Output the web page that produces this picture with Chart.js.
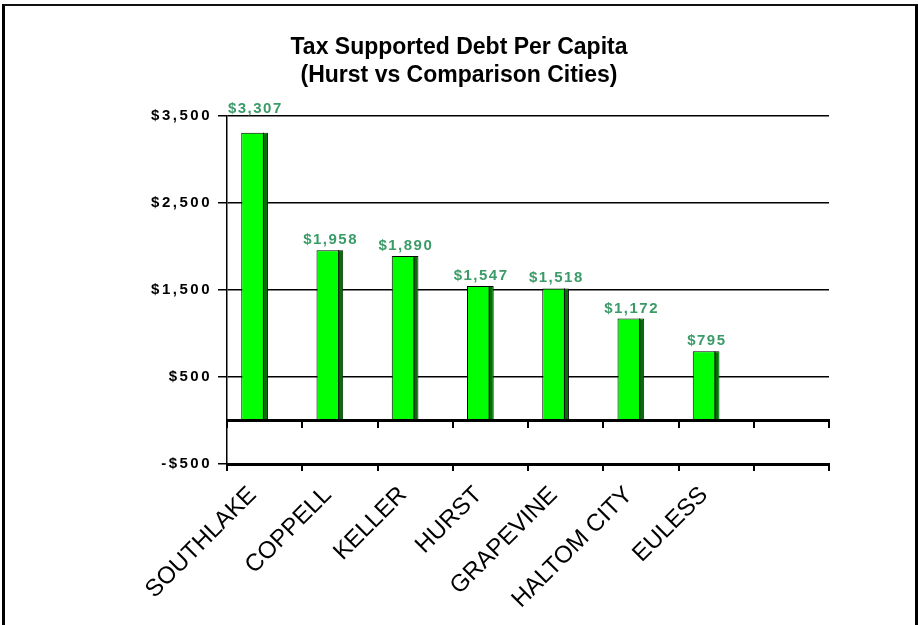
<!DOCTYPE html>
<html>
<head>
<meta charset="utf-8">
<script src="https://cdn.jsdelivr.net/npm/chart.js@4/dist/chart.umd.min.js"></script>
<style>
  html, body { margin: 0; padding: 0; background: #fff; overflow: hidden; }
  #wrap { position: relative; width: 918px; height: 625px; }
  #frame { position: absolute; left: 2px; top: 4px; width: 916px; height: 700px; box-sizing: border-box;
           border: 3px solid #000; border-top: 2px solid #111; pointer-events: none; }
  canvas { position: absolute; left: 0; top: 0; }
</style>
</head>
<body>
<div id="wrap">
  <canvas id="c" width="918" height="625"></canvas>
  <div id="frame"></div>
</div>
<script>
// ---- data ----
const categories = ['SOUTHLAKE', 'COPPELL', 'KELLER', 'HURST', 'GRAPEVINE', 'HALTOM CITY', 'EULESS', ''];
const debtPerCapita = [3307, 1958, 1890, 1547, 1518, 1172, 795, null];
const titleLines = ['Tax Supported Debt Per Capita', '(Hurst vs Comparison Cities)'];
const yMin = -500, yMax = 3500, yStep = 1000;

const FAMILY = '"Liberation Sans", Arial, Helvetica, sans-serif';

// linear scale whose tick labels are drawn with letter spacing
class SpacedLinearScale extends Chart.LinearScale {
  drawLabels(area) {
    const ctx = this.ctx;
    ctx.save();
    ctx.letterSpacing = '2.5px';
    super.drawLabels(area);
    ctx.restore();
  }
}
SpacedLinearScale.id = 'spacedLinear';
SpacedLinearScale.defaults = Chart.LinearScale.defaults;
Chart.register(SpacedLinearScale);

function money(v) {
  const s = '$' + Math.abs(v).toLocaleString('en-US');
  return v < 0 ? '-' + s : s;
}

// 3D side strip on each bar
const sideStrip = {
  id: 'sideStrip',
  afterDatasetDraw(chart, args) {
    if (args.index !== 0) return;
    const ctx = chart.ctx;
    ctx.save();
    args.meta.data.forEach((bar, i) => {
      if (debtPerCapita[i] == null) return;
      const p = bar.getProps(['x', 'y', 'base', 'width'], true);
      const right = p.x + p.width / 2;
      ctx.fillStyle = '#0b6a0b';
      ctx.fillRect(right - 4.5, p.y + 1, 3.5, p.base - p.y - 1);
      ctx.strokeStyle = '#000';
      ctx.lineWidth = 1;
      ctx.beginPath();
      ctx.moveTo(right - 4.5, p.y);
      ctx.lineTo(right - 4.5, p.base);
      ctx.stroke();
    });
    ctx.restore();
  }
};

// value labels above bars
const valueLabels = {
  id: 'valueLabels',
  afterDatasetsDraw(chart) {
    const ctx = chart.ctx;
    const meta = chart.getDatasetMeta(0);
    const top = chart.chartArea.top;
    ctx.save();
    ctx.font = 'bold 15px ' + FAMILY;
    ctx.letterSpacing = '1.5px';
    ctx.fillStyle = '#3b9b68';
    ctx.textAlign = 'center';
    ctx.textBaseline = 'alphabetic';
    meta.data.forEach((bar, i) => {
      const v = debtPerCapita[i];
      if (v == null) return;
      let y = bar.y - 6;
      if (y - 13 < top + 2) y = top - 3;   // keep clear of the top gridline
      ctx.fillText(money(v), bar.x + 0.75, y);
    });
    ctx.restore();
  }
};

new Chart(document.getElementById('c'), {
  type: 'bar',
  data: {
    labels: categories,
    datasets: [
      {
        data: debtPerCapita,
        backgroundColor: '#00ff00',
        borderColor: '#000',
        borderWidth: 1,
        borderSkipped: false,
        categoryPercentage: 0.5333,
        barPercentage: 1.33
      },
      {
        data: categories.map(() => null),
        categoryPercentage: 0.5333,
        barPercentage: 1.33
      }
    ]
  },
  options: {
    responsive: false,
    devicePixelRatio: 1,
    animation: false,
    layout: { padding: { top: 0, left: 0, right: 0, bottom: 0 } },
    plugins: {
      legend: { display: false },
      tooltip: { enabled: false },
      title: {
        display: true,
        text: titleLines,
        color: '#000',
        font: { family: FAMILY, size: 23, weight: 'bold', lineHeight: 28 / 23 },
        padding: { top: 34, bottom: 26 }
      }
    },
    scales: {
      x: {
        type: 'category',
        position: 'bottom',
        offset: true,
        grid: { offset: true, drawOnChartArea: false, drawTicks: true, tickLength: 7, color: '#000', lineWidth: 2 },
        border: { display: true, color: '#000', width: 3, z: 1 },
        ticks: {
          autoSkip: false, minRotation: 45, maxRotation: 45, padding: 10, labelOffset: -12,
          color: '#000', font: { family: FAMILY, size: 24 }
        },
        afterFit(s) { s.height = 161; }
      },
      x2: {
        type: 'category',
        axis: 'x',
        position: { y: 0 },
        offset: true,
        grid: { offset: true, drawOnChartArea: false, drawTicks: true, tickLength: 6, color: '#000', lineWidth: 2 },
        border: { display: true, color: '#000', width: 3, z: 1 },
        ticks: { display: false }
      },
      y: {
        type: 'spacedLinear',
        position: 'left',
        min: yMin,
        max: yMax,
        ticks: {
          stepSize: yStep,
          padding: 6,
          color: '#000',
          font: { family: FAMILY, size: 15, weight: 'bold' },
          callback: (v) => money(v)
        },
        grid: { color: '#000', lineWidth: 1.5, tickLength: 9, z: -1 },
        border: { display: true, color: '#000', width: 1.5 },
        afterFit(s) { s.width = 227; }
      },
      yR: {
        type: 'linear',
        position: 'right',
        display: true,
        grid: { display: false },
        border: { display: false },
        ticks: { display: false },
        afterFit(s) { s.width = 89; }
      }
    }
  },
  plugins: [sideStrip, valueLabels]
});
</script>
</body>
</html>
